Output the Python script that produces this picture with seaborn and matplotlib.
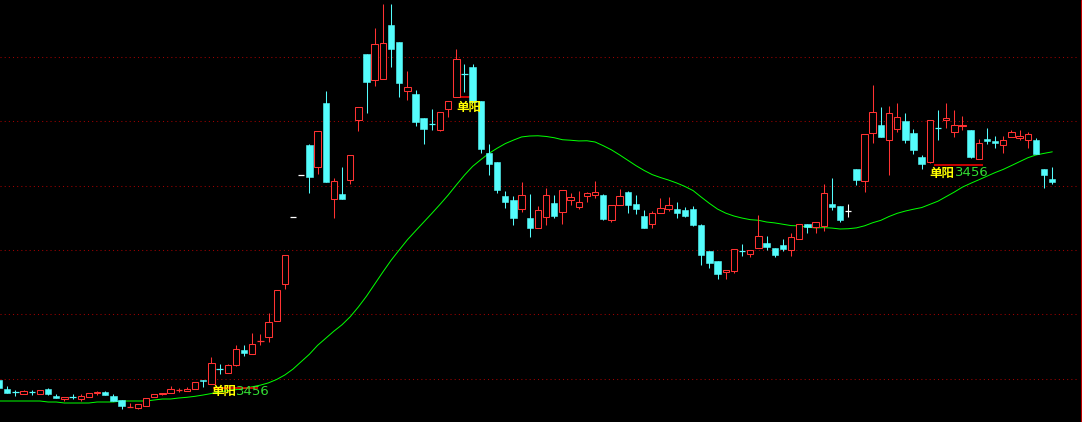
import numpy as np
import pandas as pd
import matplotlib
matplotlib.use("Agg")
import matplotlib.pyplot as plt
import seaborn as sns

# K线数据 (价格单位任意, 读自原图)
opens = [42, 32.7, 29.7, 27.7, 29.7, 27.7, 32.7, 26.3, 23.3, 25.3,
         23.3, 24.7, 28.7, 30, 26.3, 22, 15.3, 14.3, 16.3, 24.7,
         27.7, 28.7, 32.3, 31.3, 33.3, 41.7, 38.3, 53, 49.5, 57,
         72, 68.3, 81.3, 85.3, 100.7, 137.7, 204.7, 247, 277, 254.7,
         319, 222.7, 228, 241.7, 301.7, 368, 341.7, 343.3, 397, 380,
         331.3, 328, 304, 297.7, 292.3, 312.7, 325.3, 348, 355, 321,
         269, 260, 226, 222, 212.7, 203.7, 194.3, 204.7, 219, 209.7,
         222.3, 215.3, 225.7, 226.7, 227, 202.3, 217.3, 230, 218, 206,
         197.7, 208.7, 213.3, 213, 212, 213, 197, 171, 161, 150.3,
         151.3, 171, 167.7, 174.3, 179, 174, 177, 172.3, 183.3, 198,
         195.3, 196.3, 218, 216, 211, 253, 241.3, 289.3, 297, 282.3,
         293.3, 301, 289, 265, 260.3, 293.7, 302.3, 290.3, 295.7, 292,
         263.3, 283, 281, 276.7, 284.7, 284.3, 282.3, 282, 253, 243]
highs = [42, 36, 32, 32, 32, 31.7, 33.7, 28, 24.7, 28,
         28, 28.7, 31.3, 31.3, 28, 22, 19.3, 17.7, 23.7, 28,
         29, 36, 34.3, 34.7, 40, 41.7, 65, 58, 58.5, 77,
         76.7, 89, 87.7, 109, 131.7, 166.7, 204.7, 247, 278, 291,
         331, 243.7, 255, 266.7, 314.7, 368, 394, 418, 418, 380,
         351, 332, 304, 313, 309.7, 320.7, 372.7, 358, 358, 321,
         278, 260, 231, 226, 240, 228, 216, 234, 227, 231.7,
         229, 231, 230, 241, 228, 216.7, 233, 231, 227, 212,
         211, 224, 225, 220, 215, 216, 198, 171, 161, 152,
         172.7, 178, 172, 207, 186, 174, 182.7, 189, 197.7, 198,
         200, 238, 244, 216, 218, 253, 288, 337, 315, 316,
         319, 309, 292.7, 267, 301.7, 312, 319, 312, 306, 292,
         283, 294, 286, 286, 292, 292, 289.7, 284, 253, 255]
lows = [34, 29.3, 26.3, 27.7, 27.3, 27.7, 26.7, 24.3, 21.3, 22.7,
        21.3, 24.7, 26.7, 26.7, 21.3, 13.3, 14.7, 13.3, 16.3, 24.7,
        26.7, 28.7, 29.7, 31.3, 33.3, 35.5, 38.3, 48, 49.5, 56,
        66.5, 68.3, 77.3, 80.3, 100.7, 133.3, 204.7, 247, 229.3, 247.7,
        240.3, 204.3, 223.3, 238.3, 291.3, 309.3, 336.3, 343.3, 355.3, 325.3,
        322.3, 296, 278.3, 292, 291.3, 304.7, 325.3, 330.3, 320.3, 269.3,
        247.3, 229.3, 214.3, 197, 210.3, 185.3, 194.3, 197, 204.3, 198,
        217, 213, 220.3, 223.7, 202, 200.3, 217.3, 209.3, 208, 194.3,
        194.3, 208.7, 211, 204.3, 205.3, 196.3, 157.3, 154.3, 143.3, 143.3,
        149.3, 166, 165.3, 174.3, 172, 165, 171, 166, 183.3, 189,
        189.3, 191.3, 212.3, 200, 205, 237, 230, 278.7, 285.3, 247,
        290.3, 278.7, 268, 253, 258.7, 282, 294, 285, 292, 264,
        263.3, 278, 274, 269, 284.7, 282, 273.7, 268, 234.3, 238.3]
closes = [34, 29.3, 29.7, 31, 29.7, 31.7, 27.7, 24.3, 24.7, 25.3,
          26, 28.7, 30, 26.7, 21.3, 16, 15.3, 17.7, 23.7, 28,
          29, 33, 32.3, 32.7, 40, 40.7, 59, 53, 57, 73,
          69.5, 77.7, 81.3, 99.7, 131.7, 166.7, 204.7, 247, 245.3, 291,
          240.3, 240.7, 223.3, 266.7, 314.7, 340.3, 377.7, 378.7, 373, 339.3,
          334.7, 300.3, 293.3, 297.7, 309.7, 320.7, 362.7, 348, 320.3, 273.3,
          258.3, 232.3, 220.3, 204.3, 227, 194.3, 211.7, 226.7, 206.3, 231.7,
          224.7, 219.7, 228.7, 229.7, 203.3, 216.7, 226, 217.3, 213, 194.3,
          209, 213.7, 216.7, 209.3, 206.3, 197.3, 167.3, 159.3, 148.3, 152,
          172.7, 171, 172, 186, 175, 167.3, 173, 185, 197.7, 194.7,
          200, 228.7, 215.3, 202, 211, 242, 288, 310, 285.3, 308.7,
          304.7, 282, 272, 258.3, 301.7, 293.7, 303.7, 296.7, 297, 265,
          278.7, 281.3, 278.7, 281.7, 289.7, 285.7, 288, 268, 247.3, 240.3]

# 十字星/一字线的颜色 (索引 -> 颜色)
doji_colors = {2: "c", 4: "c", 9: "c", 27: "c", 53: "c", 57: "c", 91: "c", 115: "c",
               16: "r", 22: "r", 32: "r",
               36: "w", 37: "w", 104: "w"}

# MA30 开头部分 (窗口前的数据看不到, 从图上读)
ma_head = [21, 21, 21, 21, 21, 21, 20, 20, 19, 19, 19, 19, 20, 20, 20,
           21, 21, 21, 21, 22, 23, 23, 24, 24.7, 25.7, 27, 28.5, 30, 31.3]

# 水平参考线
grid_levels = [42.7, 107.7, 171.7, 235.7, 300.7, 364.7]

# 单阳信号
signal_idx = [26, 56, 114]
signal_text_y = [30.5, 315, 249]
signal_count = ["3456", "", "3456"]
signal_line_y = [34.5, 325.3, 257]
signal_line_start = [26.2, 56.3, 114.5]
signal_line_end = [31.7, 58.0, 120.5]

RED = "#ff3232"
CYAN = "#54fcfc"
cmap = {"r": RED, "c": CYAN, "w": "#ffffff"}

sns.set_style("dark", {"axes.facecolor": "black", "figure.facecolor": "black"})
plt.rcParams["font.family"] = ["Noto Sans CJK SC", "DejaVu Sans"]

df = pd.DataFrame({"open": opens, "high": highs, "low": lows, "close": closes})
df["idx"] = np.arange(len(df))
ma = df["close"].rolling(30).mean()
ma.iloc[:len(ma_head)] = ma_head
df["ma30"] = ma

up = df["close"] > df["open"]
down = df["close"] < df["open"]
flat = df["close"] == df["open"]

wick_colors = []
for i, row in df.iterrows():
    if row["close"] > row["open"]:
        wick_colors.append(RED)
    elif row["close"] < row["open"]:
        wick_colors.append(CYAN)
    else:
        wick_colors.append(cmap[doji_colors.get(i, "c")])

fig = plt.figure(figsize=(10.82, 4.22), dpi=100)
ax = fig.add_axes([0, 0, 1, 1])
ax.set_facecolor("black")

# 参考线
ax.hlines(grid_levels, 0, 0.996, transform=ax.get_yaxis_transform(),
          colors="#a00000", linestyles=(0, (1, 3)), lw=0.75, zorder=0)

# 均线
sns.lineplot(data=df, x="idx", y="ma30", ax=ax, color="#00ff00", lw=0.72,
             legend=False, zorder=1.5)

# 影线
ax.vlines(df["idx"], df["low"], df["high"], colors=wick_colors, lw=0.75, zorder=2)

# 阳线 (空心)
d = df[up]
ax.bar(d["idx"], d["close"] - d["open"], bottom=d["open"], width=0.78,
       facecolor="black", edgecolor=RED, lw=0.75, zorder=3)
# 阴线 (实心)
d = df[down]
ax.bar(d["idx"], d["open"] - d["close"], bottom=d["close"], width=0.78,
       facecolor=CYAN, edgecolor=CYAN, lw=0.4, zorder=3)
# 十字星
d = df[flat]
ax.hlines(d["close"], d["idx"] - 0.39, d["idx"] + 0.39,
          colors=[wick_colors[i] for i in d.index], lw=0.9, zorder=3)

# 单阳标记
for k in range(len(signal_idx)):
    ax.hlines(signal_line_y[k], signal_line_start[k], signal_line_end[k],
              colors="#ff0000", lw=1.1, zorder=1.8)
    t = ax.text(signal_idx[k], signal_text_y[k], "单阳", color="#ffff00",
                fontsize=9, fontweight="bold", ha="left", va="center", zorder=5)
    if signal_count[k]:
        ax.annotate(signal_count[k], xy=(1, 0.5), xycoords=t, va="center",
                    ha="left", color="#33dd33", fontsize=9.5,
                    family="DejaVu Sans", zorder=5)

# 右侧边框
ax.plot([0.9991, 0.9991], [0, 1], transform=ax.transAxes, color="#c00000", lw=0.8)

ax.set_xlim(0.105, 132.64)
ax.set_ylim(0, 422)
ax.set_xticks([])
ax.set_yticks([])
ax.set_xlabel("")
ax.set_ylabel("")
for s in ax.spines.values():
    s.set_visible(False)

fig.savefig("out.png", dpi=100, facecolor="black")
